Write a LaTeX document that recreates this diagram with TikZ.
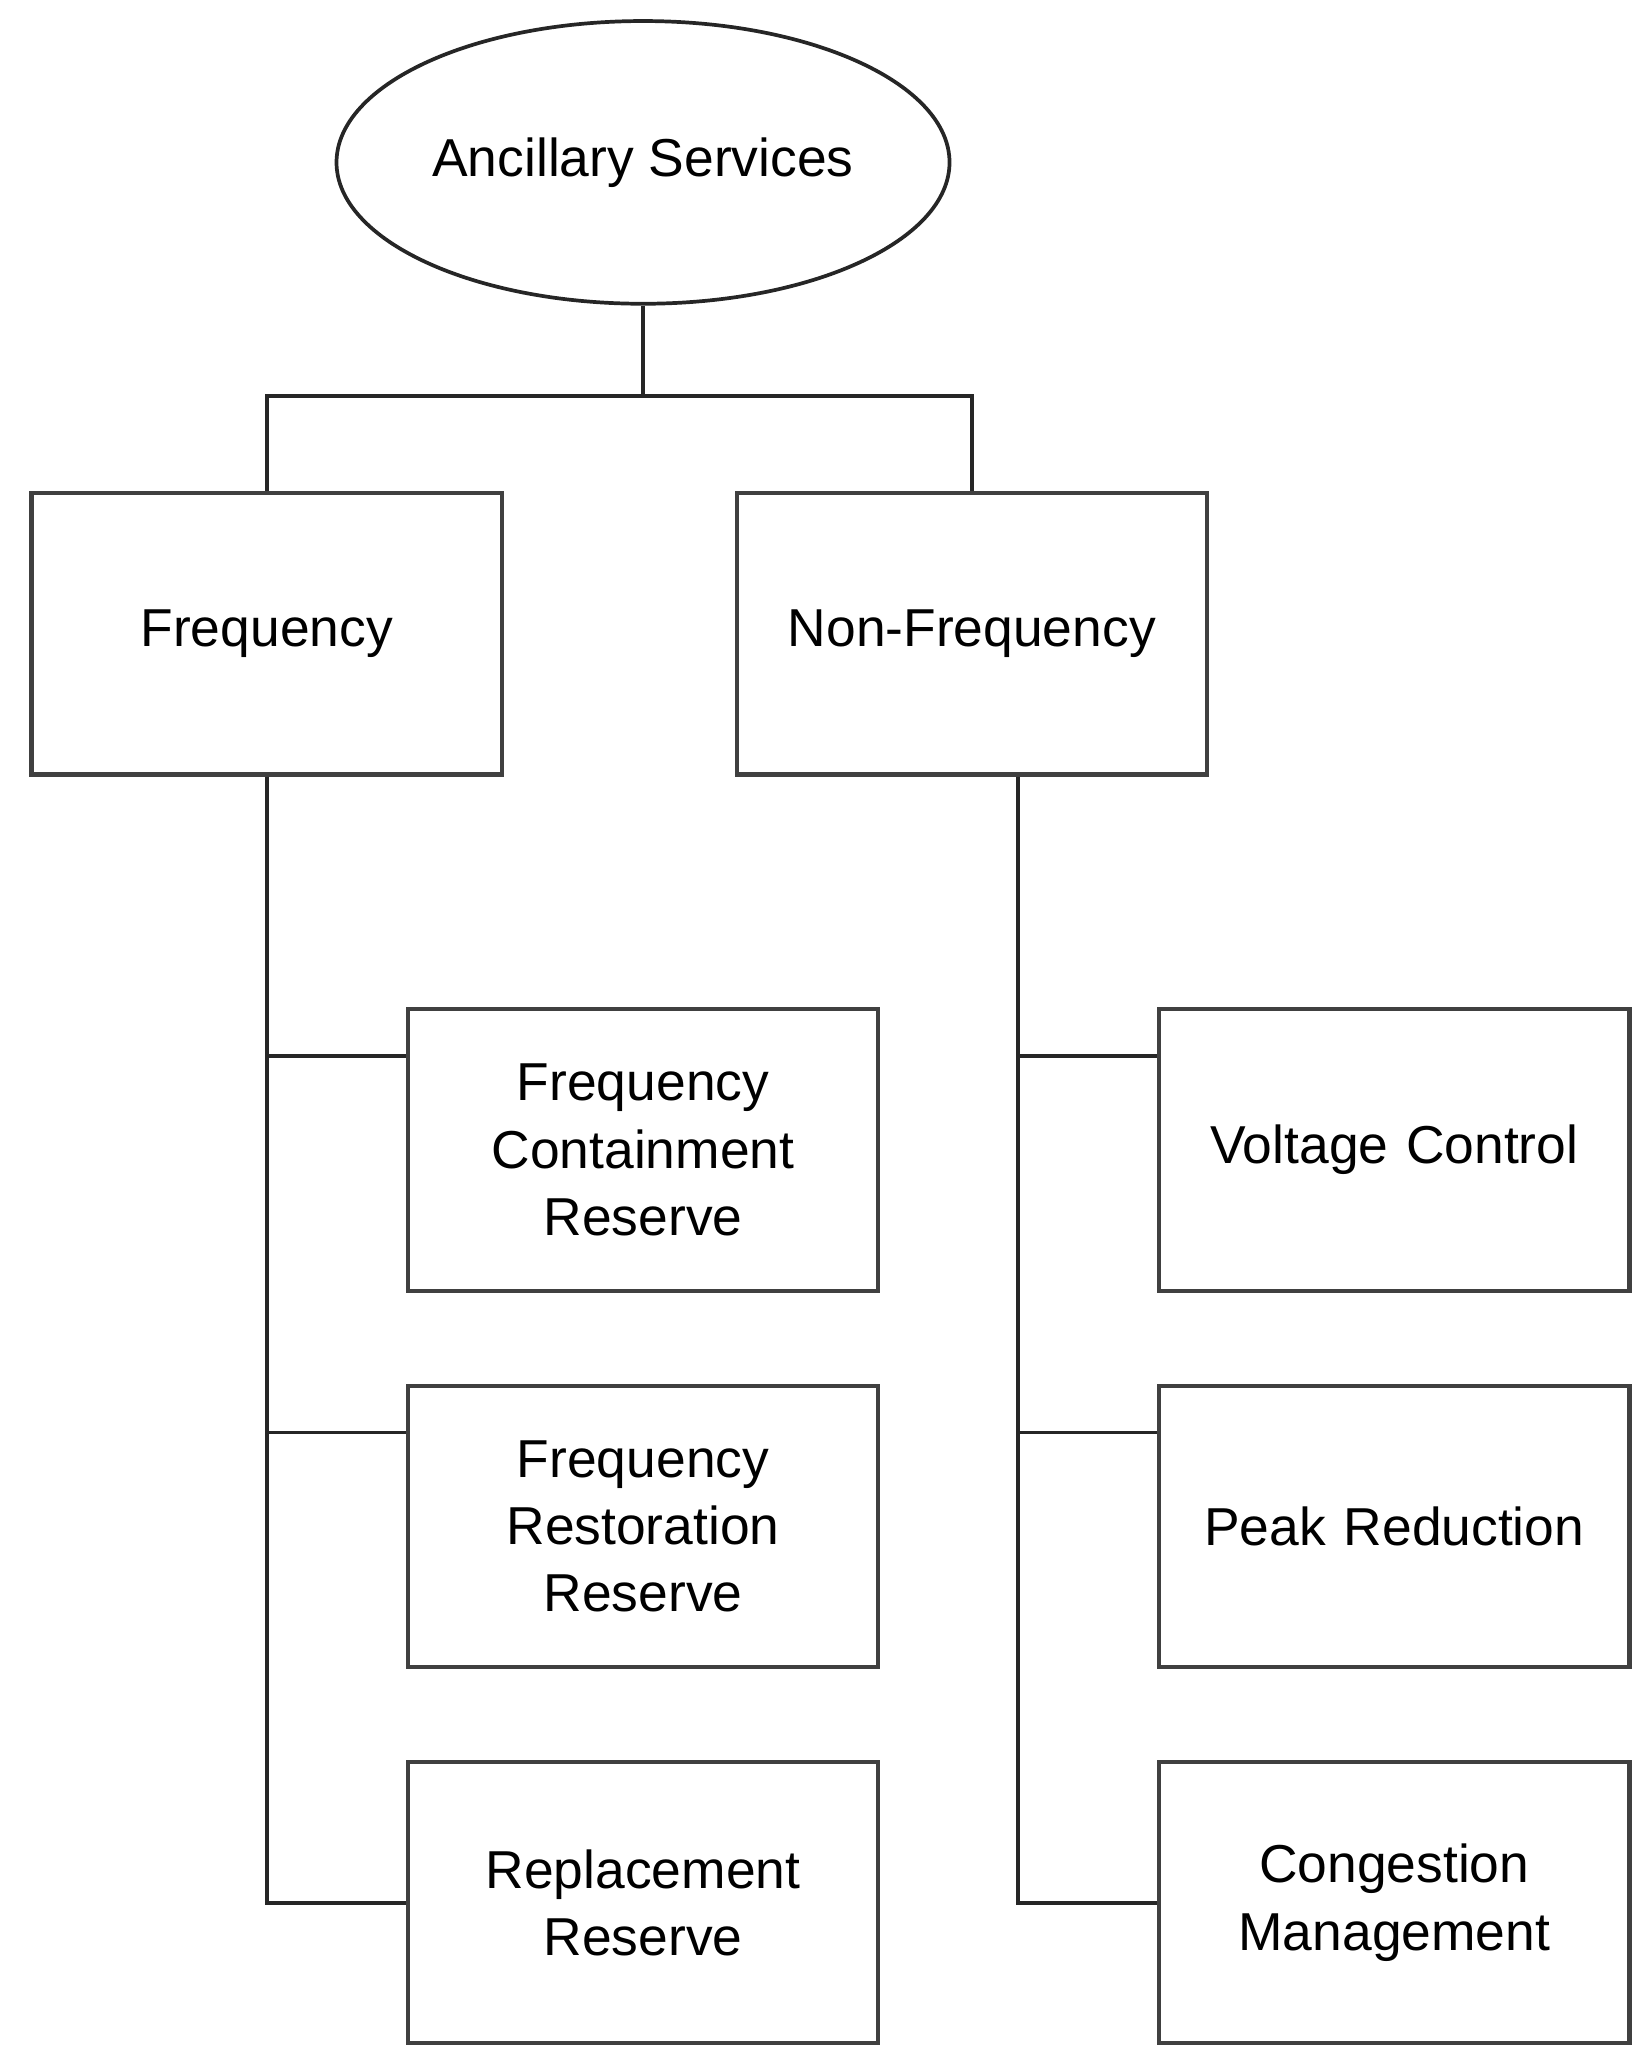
\documentclass[tikz,border=0pt]{standalone}
\usepackage{fontspec}
\setmainfont{Liberation Sans}
\usetikzlibrary{shapes.geometric}

\begin{document}
\begin{tikzpicture}[x=0.01cm,y=-0.01cm,
    service/.style={draw=black!75,line width=0.9pt,rectangle,minimum width=3.56cm,
      minimum height=2.13cm,align=center,text width=3.3cm,font=\fontsize{11.5}{14.5}\selectfont},
    link/.style={draw=black!85,line width=0.8pt}]

  %% fixing the margins
  \useasboundingbox (0,0) rectangle (1250,1567);

  %% root
  \node[ellipse,draw=black!85,line width=0.8pt,inner sep=0pt,minimum width=4.64cm,minimum height=2.14cm,
        font=\fontsize{11.5}{14.5}\selectfont] (ancillary) at (487,123) {Ancillary Services};

  %% second level
  \node[service] (freq) at (202,480) {Frequency};
  \node[service] (nonfreq) at (736,480) {Non-Frequency};

  %% leaves
  \node[service] (fcr) at (487,871) {Frequency\\Containment\\Reserve};
  \node[service] (frr) at (487,1156) {Frequency\\Restoration\\Reserve};
  \node[service] (rr) at (487,1441) {Replacement\\Reserve};
  \node[service] (volt) at (1056,871) {Voltage Control};
  \node[service] (peak) at (1056,1156) {Peak Reduction};
  \node[service] (cong) at (1056,1441) {Congestion\\Management};

  %% connectors
  \coordinate (bus) at (487,300);
  \draw[link] (ancillary.south) -- (bus);
  \draw[link] (freq.north) |- (bus) -| (nonfreq.north);

  \coordinate (freq/trunk) at (freq.south);
  \coordinate (nonfreq/trunk) at ([xshift=0.35cm]nonfreq.south);
  \draw[link] (freq/trunk) |- (rr.west);
  \draw[link] (nonfreq/trunk) |- (cong.west);
  \foreach \myleaf/\mytrunk in {fcr/freq,frr/freq,volt/nonfreq,peak/nonfreq}
  {
    \coordinate (\myleaf/in) at ([yshift=0.71cm]\myleaf.west);
    \draw[link] (\mytrunk/trunk |- \myleaf/in) -- (\myleaf/in);
  }

\end{tikzpicture}
\end{document}
